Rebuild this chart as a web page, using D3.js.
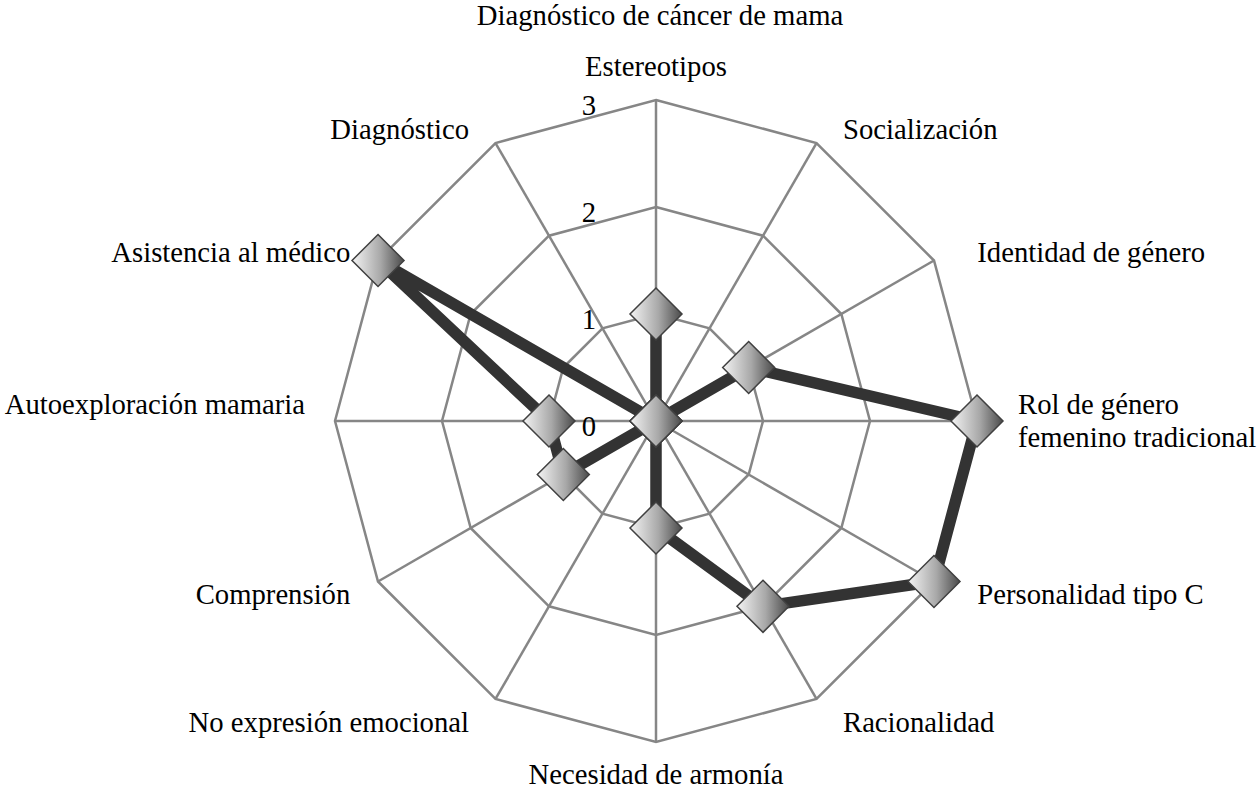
<!DOCTYPE html>
<html>
<head>
<meta charset="utf-8">
<script src="https://cdn.jsdelivr.net/npm/d3@7"></script>
<style>
  body { margin: 0; background: #fff; }
  text { font-family: "Liberation Serif", "Times New Roman", serif; fill: #000; }
</style>
</head>
<body>
<div class="chart"></div>
<script>
var svgWidth = 1258;
var svgHeight = 797;

// data
var title = "Diagnóstico de cáncer de mama";
var categories = [
  ["Estereotipos"],
  ["Socialización"],
  ["Identidad de género"],
  ["Rol de género", "femenino tradicional"],
  ["Personalidad tipo C"],
  ["Racionalidad"],
  ["Necesidad de armonía"],
  ["No expresión emocional"],
  ["Comprensión"],
  ["Autoexploración mamaria"],
  ["Asistencia al médico"],
  ["Diagnóstico"]
];
var values = [1, 0, 1, 3, 3, 2, 1, 0, 1, 1, 3, 0];
var ticks = [0, 1, 2, 3];

var cx = 656, cy = 421;
var R = 321;
var fontSize = 28.7;
var lineH = 33;

var svg = d3.select(".chart")
  .append("svg")
  .attr("width", svgWidth)
  .attr("height", svgHeight);

var defs = svg.append("defs");
var grad = defs.append("linearGradient")
  .attr("id", "diamondFill")
  .attr("x1", "0%").attr("y1", "0%")
  .attr("x2", "100%").attr("y2", "0%");
grad.append("stop").attr("offset", "0%").attr("stop-color", "#f4f4f4");
grad.append("stop").attr("offset", "55%").attr("stop-color", "#a8a8a8");
grad.append("stop").attr("offset", "100%").attr("stop-color", "#4a4a4a");

var r = d3.scaleLinear()
  .domain([0, d3.max(ticks)])
  .range([0, R]);

var angle = d3.scalePoint()
  .domain(d3.range(categories.length))
  .range([0, 2 * Math.PI * (categories.length - 1) / categories.length]);

function px(i, v) { return cx + r(v) * Math.sin(angle(i)); }
function py(i, v) { return cy - r(v) * Math.cos(angle(i)); }

var chartGroup = svg.append("g");

// rings
ticks.filter(t => t > 0).forEach(function (t) {
  var pts = categories.map((c, i) => [px(i, t), py(i, t)]);
  chartGroup.append("polygon")
    .attr("points", pts.map(p => p.join(",")).join(" "))
    .attr("fill", "none")
    .attr("stroke", "#868686")
    .attr("stroke-width", 2.5);
});

// spokes
chartGroup.selectAll(".spoke")
  .data(categories)
  .enter()
  .append("line")
  .attr("class", "spoke")
  .attr("x1", cx).attr("y1", cy)
  .attr("x2", (d, i) => px(i, d3.max(ticks)))
  .attr("y2", (d, i) => py(i, d3.max(ticks)))
  .attr("stroke", "#868686")
  .attr("stroke-width", 2.5);

// tick labels
chartGroup.selectAll(".tick")
  .data(ticks)
  .enter()
  .append("text")
  .attr("class", "tick")
  .attr("x", cx - 60)
  .attr("y", d => cy - r(d) + 5)
  .attr("text-anchor", "end")
  .attr("dominant-baseline", "central")
  .attr("font-size", fontSize)
  .text(d => d);

// series line
var line = d3.line()
  .x((d, i) => px(i, d))
  .y((d, i) => py(i, d))
  .curve(d3.curveLinearClosed);

chartGroup.append("path")
  .datum(values)
  .attr("d", line)
  .attr("fill", "none")
  .attr("stroke", "#333333")
  .attr("stroke-width", 11.5)
  .attr("stroke-linejoin", "round");

// markers
var half = 26;
chartGroup.selectAll(".marker")
  .data(values)
  .enter()
  .append("path")
  .attr("class", "marker")
  .attr("d", (d, i) => {
    var x = px(i, d), y = py(i, d);
    return `M${x},${y - half}L${x + half},${y}L${x},${y + half}L${x - half},${y}Z`;
  })
  .attr("fill", "url(#diamondFill)")
  .attr("stroke", "#404040")
  .attr("stroke-width", 1.5);

// category labels
function labelPad(s) {
  var a = Math.abs(s), right = s > 0;
  if (a < 0.6) return 53;
  if (a > 0.99) return right ? 41 : 30;
  return right ? 50 : 32;
}

var labelGroup = chartGroup.selectAll(".label")
  .data(categories)
  .enter()
  .append("text")
  .attr("class", "label")
  .attr("font-size", fontSize)
  .attr("text-anchor", (d, i) => {
    var s = Math.sin(angle(i));
    return Math.abs(s) < 0.1 ? "middle" : (s > 0 ? "start" : "end");
  })
  .attr("transform", (d, i) => {
    var a = angle(i);
    var s = Math.sin(a), c = Math.cos(a);
    var padY = Math.abs(c) > 0.99 ? 33 : (c > 0 ? 15 : 27);
    var x = cx + (R + labelPad(s)) * s;
    var y = cy - (R + padY) * c;
    return `translate(${x},${y})`;
  });

labelGroup.each(function (d, i) {
  var t = d3.select(this);
  var side = Math.abs(Math.sin(angle(i))) > 0.99;
  // side labels keep a two-line box, first line above the axis
  var first = side ? -lineH / 2 : -(d.length - 1) * lineH / 2;
  d.forEach(function (s, k) {
    t.append("tspan")
      .attr("x", 0)
      .attr("y", first + k * lineH)
      .attr("dy", "0.32em")
      .text(s);
  });
});

// title
svg.append("text")
  .attr("x", 660)
  .attr("y", 25)
  .attr("text-anchor", "middle")
  .attr("font-size", fontSize)
  .text(title);
</script>
</body>
</html>
